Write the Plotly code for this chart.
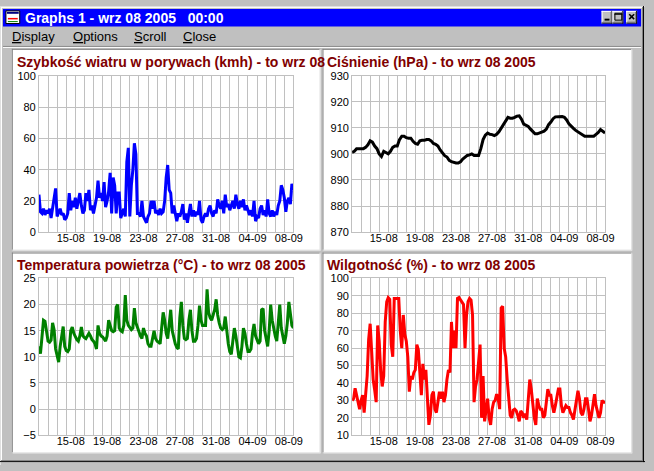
import plotly.graph_objects as go

W, H = 654, 471

# ---------------- data ----------------
tick_labels = ["15-08", "19-08", "23-08", "27-08", "31-08", "04-09", "08-09"]
tick_days = [3, 7, 11, 15, 19, 23, 27]          # days after 12-08 00:00
n_days = 28

wind = [24, 13, 12, 15, 11, 14,
        12, 15, 9, 16, 20, 28,
        10, 13, 15, 11, 12, 8,
        9, 12, 25, 14, 20, 16,
        22, 15, 20, 25, 17, 12,
        14, 25, 20, 27, 14, 17,
        12, 18, 22, 33, 22, 25,
        20, 32, 16, 20, 26, 38,
        12, 35, 30, 12, 25, 25,
        9, 12, 15, 10, 45, 54,
        10, 30, 40, 57, 50, 12,
        12, 10, 20, 10, 8, 6,
        10, 12, 20, 15, 20, 12,
        14, 11, 15, 12, 13, 20,
        35, 43, 27, 25, 12, 17,
        12, 7, 12, 10, 13, 18,
        8, 12, 6, 12, 18, 10,
        14, 10, 13, 11, 20, 8,
        6, 10, 12, 10, 15, 17,
        12, 10, 14, 12, 21, 17,
        15, 20, 12, 24, 16, 18,
        14, 17, 20, 15, 24, 18,
        15, 20, 16, 21, 14, 17,
        13, 11, 14, 10, 20, 7,
        10, 9, 15, 17, 11, 14,
        10, 21, 12, 10, 14, 10,
        13, 11, 17, 20, 30, 27,
        22, 13, 20, 22, 18, 31,
        27]

pressure = [900.6, 901, 902, 902,
            902, 902, 902.5, 903.5,
            905, 904.5, 903, 902,
            900, 899, 901, 900.5,
            900, 901, 902.5, 903,
            903, 905.5, 906.8, 906.8,
            906.2, 906, 906, 904.8,
            904, 903.7, 905, 905.2,
            905.2, 905.5, 905.5, 905,
            904, 903.7, 903, 901.5,
            900.5, 899.3, 898.8, 897.5,
            897, 896.6, 896.5, 896.5,
            897, 898, 898.8, 899.4,
            899.6, 900, 899.4, 899.4,
            899.4, 902, 905.5, 907.2,
            908, 907.5, 907.4, 907,
            907.5, 908.5, 910, 911.5,
            913, 914, 913.7, 913.7,
            914, 914.5, 914.6, 913.3,
            911.4, 911, 910.5, 909.5,
            908.5, 907.7, 907.7, 908,
            908.3, 908.7, 909.5, 911.2,
            912.2, 913.5, 914.2, 914.3,
            914.3, 914.3, 914, 913,
            911.5, 910.5, 909.8, 909,
            908.5, 908, 907.3, 906.8,
            906.8, 906.8, 907, 906.8,
            907.5, 908.2, 909.3, 908.5,
            908]

temperature = [12, 10.6, 13.8, 17, 16.8, 14.5,
               13, 12.8, 13.2, 16.5, 15.2, 11.5,
               10, 9, 12, 14, 15.8, 12,
               11.2, 11, 11.5, 15, 15.7, 14.5,
               13.8, 13.3, 13, 14, 15.7, 14,
               13.7, 13.5, 14, 14.5, 14, 13.3,
               13, 12.5, 11.5, 16, 14.5, 14,
               13.8, 13.3, 13, 14, 17, 16,
               15, 14.8, 15, 19.5, 20, 15.5,
               15, 14.8, 16, 21.8, 17, 16,
               15.5, 15.2, 15.5, 19.3, 16.5, 15.5,
               15, 14, 13.5, 15.5, 14.5, 14,
               12.5, 12, 12, 13.5, 15, 13.5,
               13, 12.8, 12.5, 15.5, 18.5, 17,
               14.5, 13.5, 16.5, 19, 15, 13.5,
               12.5, 11.8, 11.5, 17.5, 20.5, 16,
               13.5, 13.3, 13.5, 17, 19, 15,
               13, 13, 13.5, 16, 19.8, 17,
               16, 16, 16, 22.9, 18.5, 17.5,
               17, 18, 19, 21, 18, 16.5,
               15.5, 15.2, 15.5, 17.7, 14.5, 12.5,
               11, 10.5, 13, 15.5, 14, 11.5,
               10, 9.8, 12, 15.5, 14.5, 12.5,
               11, 11, 11.5, 14.5, 16.3, 14,
               13, 12.5, 13, 19, 19.2, 15,
               13.5, 12, 15, 20, 17, 15,
               14, 13, 17, 20, 15.5, 14,
               12.5, 14, 16.5, 20.5, 18.5, 16,
               15.5]

humidity = [30, 31, 37, 33, 27, 25,
            30, 33, 23, 32, 44, 65,
            74, 58, 42, 36, 29, 73,
            64, 47, 38, 44, 75, 86.6,
            89, 88, 62, 55, 88.5, 88.5,
            88.5, 88.5, 70, 60, 79, 68,
            64, 55, 35, 44, 42, 46,
            47.5, 62, 59, 42, 33, 51,
            42, 47.5, 29, 16, 21.5, 33,
            35, 25, 23, 29, 35, 31,
            35, 29, 33, 42, 47.5, 46,
            75, 60, 70, 60, 88.5, 89,
            87.5, 86.6, 85, 60, 79, 86.6,
            88.5, 87.5, 79, 29, 38, 42,
            53, 62, 20, 44, 18, 25,
            31, 20, 16, 25, 29, 30,
            33.6, 31, 25, 83, 84, 60,
            55, 42, 29, 21.5, 20, 24.4,
            25, 24, 21.5, 18, 24, 23,
            20, 22.5, 19, 33, 42, 36.5,
            27, 20, 16, 31, 27, 25,
            25, 20, 21.5, 29, 36.5, 33,
            33, 27, 23, 27, 33, 36.5,
            36.5, 27, 23, 25, 27, 26,
            26, 23, 21.5, 19, 25, 29,
            35.5, 31, 23, 21.5, 25, 31,
            31, 25, 18, 21.5, 27, 33.6,
            27, 23, 20, 23, 30, 29,
            29]

titles = ["Szybkość wiatru w porywach (kmh) - to wrz 08",
          "Ciśnienie (hPa) - to wrz 08 2005",
          "Temperatura powietrza (°C) - to wrz 08 2005",
          "Wilgotność (%) - to wrz 08 2005"]
window_title = "Graphs 1 - wrz 08 2005   00:00"
menu_items = ["Display", "Options", "Scroll", "Close"]

# ---------------- helpers ----------------
def fx(px):
    return px / W


def fy(py):
    return 1 - py / H


def rect(x0, y0, x1, y1, fill="rgba(0,0,0,0)", line=None, lw=1, layer="below"):
    return dict(type="rect", xref="paper", yref="paper",
                x0=fx(x0), x1=fx(x1), y0=fy(y1), y1=fy(y0),
                fillcolor=fill,
                line=dict(color=line if line else "rgba(0,0,0,0)", width=lw if line else 0),
                layer=layer)


def hline(x0, x1, y, color, lw=1, layer="below"):
    return dict(type="line", xref="paper", yref="paper",
                x0=fx(x0), x1=fx(x1), y0=fy(y), y1=fy(y),
                line=dict(color=color, width=lw), layer=layer)


def vline(x, y0, y1, color, lw=1, layer="below"):
    return dict(type="line", xref="paper", yref="paper",
                x0=fx(x), x1=fx(x), y0=fy(y0), y1=fy(y1),
                line=dict(color=color, width=lw), layer=layer)


GRID = "#C0C0C0"
FONT = "Arial, Liberation Sans, sans-serif"

fig = go.Figure()

series = [
    (wind, 6, "#0000FF", [0, 100], 20),
    (pressure, 4, "#000000", [870, 930], 10),
    (temperature, 6, "#008000", [-5, 25], 5),
    (humidity, 6, "#FF0000", [10, 100], 10),
]

# plot-area boxes in pixel coords (left, right, top, bottom)
boxes = [
    (39.5, 297.5, 72, 232),
    (357, 613.5, 71.5, 232),
    (39.5, 297.5, 279.5, 440.5),
    (357, 613.5, 279.5, 440.5),
]

for i, ((vals, per_day, color, yr, dt), (l, r, t, b)) in enumerate(zip(series, boxes)):
    xs = [k / per_day for k in range(len(vals))]
    n = "" if i == 0 else str(i + 1)
    fig.add_trace(go.Scatter(x=xs, y=vals, mode="lines",
                             line=dict(color=color, width=3),
                             xaxis="x" + n, yaxis="y" + n, showlegend=False,
                             hoverinfo="skip"))
    fig.layout["xaxis" + n] = dict(
        domain=[fx(l), fx(r)], range=[0, n_days], anchor="y" + n,
        tickmode="array", tickvals=[d + 0.5 for d in tick_days], ticktext=tick_labels,
        ticks="", showgrid=False, zeroline=False, ticklabelstandoff=-4,
        showline=True, linecolor=GRID, linewidth=1, mirror=True,
        minor=dict(tickmode="linear", tick0=0, dtick=1, showgrid=True,
                   gridcolor=GRID, gridwidth=1, ticks=""),
        tickfont=dict(family=FONT, size=11, color="black"),
        fixedrange=True)
    fig.layout["yaxis" + n] = dict(
        domain=[fy(b), fy(t)], range=yr, anchor="x" + n,
        tickmode="linear", tick0=yr[0], dtick=dt,
        ticks="", showgrid=True, gridcolor=GRID, gridwidth=1, zeroline=False,
        showline=True, linecolor=GRID, linewidth=1, mirror=True,
        tickfont=dict(family=FONT, size=11, color="black"),
        fixedrange=True)

shapes = []
# window frame
shapes.append(rect(0, 0, W, H, fill="#C0C0C0"))
shapes.append(hline(0, W, 0.5, "#DFDFDF"))
shapes.append(vline(0.5, 0, H, "#DFDFDF"))
shapes.append(hline(1, W - 2, 1.5, "#FFFFFF"))
shapes.append(vline(1.5, 1, H - 4, "#FFFFFF"))
shapes.append(hline(0, W, H - 3.5, "#000000"))
shapes.append(vline(W - 1.5, 0, H - 3, "#000000"))
shapes.append(hline(1, W - 2, H - 4.5, "#808080"))
shapes.append(vline(W - 2.5, 1, H - 4, "#808080"))
# title bar
shapes.append(rect(3, 3, W - 4, 21, fill="#0000FF"))
# icon
shapes.append(rect(6, 5, 20, 18, fill="#FFFFFF", line="#000000"))
shapes.append(rect(7, 6, 19, 8, fill="#000080"))
shapes.append(hline(8, 18, 13, "#FF0000", lw=1.5))
shapes.append(hline(8, 18, 16, "#008000", lw=1))
# caption buttons
for bx in (610, 621, 635):
    shapes.append(rect(bx, 5, bx + 11, 18, fill="#C0C0C0"))
    shapes.append(hline(bx, bx + 11, 5.5, "#FFFFFF"))
    shapes.append(vline(bx + 0.5, 5, 18, "#FFFFFF"))
    shapes.append(hline(bx, bx + 11, 17.5, "#000000"))
    shapes.append(vline(bx + 10.5, 5, 18, "#000000"))
    shapes.append(hline(bx + 1, bx + 10, 16.5, "#808080"))
    shapes.append(vline(bx + 9.5, 6, 17, "#808080"))
# minimize glyph
shapes.append(rect(613, 13, 618, 15, fill="#000000"))
# maximize glyph
shapes.append(rect(623.5, 7.5, 630.5, 14.5, line="#000000", lw=1))
shapes.append(hline(623, 631, 8.5, "#000000", lw=1))
# close glyph
shapes.append(dict(type="line", xref="paper", yref="paper", x0=fx(638), x1=fx(643),
                   y0=fy(8.5), y1=fy(13.5), line=dict(color="black", width=1.5), layer="below"))
shapes.append(dict(type="line", xref="paper", yref="paper", x0=fx(638), x1=fx(643),
                   y0=fy(13.5), y1=fy(8.5), line=dict(color="black", width=1.5), layer="below"))

# client area separator under menu
shapes.append(hline(3, W - 4, 41.5, "#808080"))
shapes.append(hline(3, W - 4, 42.5, "#FFFFFF"))

# panels (white with sunken border)
panels = [(12, 44, 325, 251), (327, 44, 641, 251), (12, 253, 325, 459), (327, 253, 641, 459)]
for (x0, y0, x1, y1) in panels:
    shapes.append(rect(x0, y0, x1, y1, fill="#FFFFFF"))
    shapes.append(hline(x0, x1, y0 + 0.5, "#808080"))
    shapes.append(vline(x0 + 0.5, y0, y1, "#808080"))
    shapes.append(hline(x0, x1, y1 - 0.5, "#DFDFDF"))
    shapes.append(vline(x1 - 0.5, y0, y1, "#DFDFDF"))

annotations = []
annotations.append(dict(text="<b>" + window_title + "</b>", x=fx(23), y=fy(12.5),
                        xref="paper", yref="paper", xanchor="left", yanchor="middle",
                        showarrow=False, font=dict(family=FONT, size=14, color="white")))
menu_x = [10, 72, 134, 184]
for mx, item in zip(menu_x, menu_items):
    annotations.append(dict(text="<u>" + item[0] + "</u>" + item[1:], x=fx(mx), y=fy(31.5),
                            xref="paper", yref="paper", xanchor="left", yanchor="middle",
                            showarrow=False, font=dict(family=FONT, size=13, color="black")))
title_pos = [(15, 57), (330, 57), (15, 266), (330, 266)]
for (tx, ty), t in zip(title_pos, titles):
    annotations.append(dict(text="<b>" + t + "</b>", x=fx(tx), y=fy(ty),
                            xref="paper", yref="paper", xanchor="left", yanchor="middle",
                            showarrow=False, font=dict(family=FONT, size=14, color="#800000")))

fig.update_layout(width=W, height=H, margin=dict(l=0, r=0, t=0, b=0),
                  paper_bgcolor="#C0C0C0", plot_bgcolor="#FFFFFF",
                  shapes=shapes, annotations=annotations, showlegend=False)

fig.write_html("out.html", config={"displayModeBar": False},
               post_script="document.body.style.margin='0';document.body.style.overflow='hidden';")
